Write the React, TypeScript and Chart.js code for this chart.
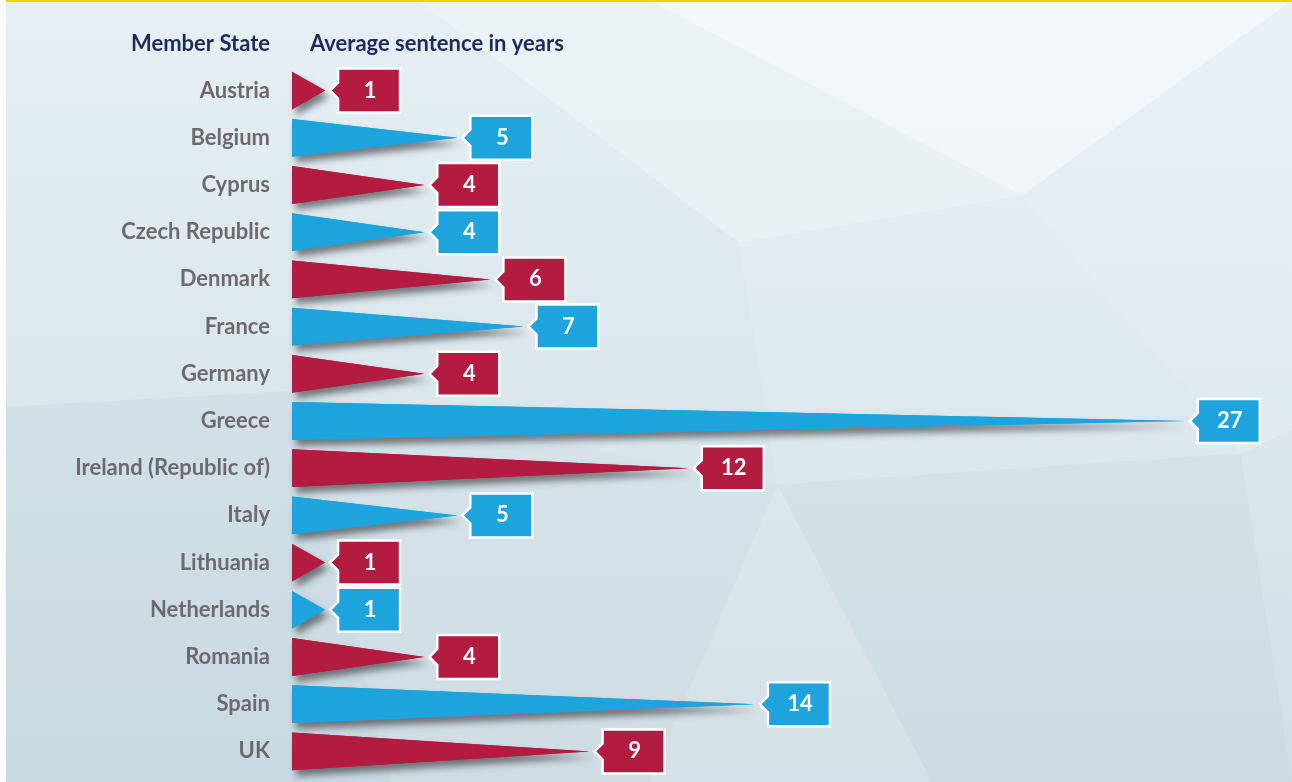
import { useEffect, useRef } from "react";
import { Chart, registerables } from "chart.js";

Chart.register(...registerables);

const countries = [
  "Austria",
  "Belgium",
  "Cyprus",
  "Czech Republic",
  "Denmark",
  "France",
  "Germany",
  "Greece",
  "Ireland (Republic of)",
  "Italy",
  "Lithuania",
  "Netherlands",
  "Romania",
  "Spain",
  "UK",
];
const sentences = [1, 5, 4, 4, 6, 7, 4, 27, 12, 5, 1, 1, 4, 14, 9];
const headerLeft = "Member State";
const headerRight = "Average sentence in years";

const CRIMSON = "#b31c40";
const BLUE = "#1ea4dc";
const barColors = countries.map((_, i) => (i % 2 === 0 ? CRIMSON : BLUE));
const FONT = "Lato, 'Open Sans', sans-serif";

const bgPlugin = {
  id: "bg",
  beforeDraw(chart: any) {
    const { ctx, width, height } = chart;
    ctx.save();
    const g = ctx.createLinearGradient(0, 0, 0, height);
    g.addColorStop(0, "#e5eff4");
    g.addColorStop(1, "#d1dfe6");
    ctx.fillStyle = g;
    ctx.fillRect(6, 0, width - 6, height);
    const polys: [number, number][][] = [
      [[0.5, 0], [1, 0], [0.79, 0.25]],
      [[0.32, 0], [0.5, 0], [0.79, 0.25], [0.57, 0.31]],
      [[0.79, 0.25], [1, 0], [1, 0.55], [0.96, 0.58]],
      [[0.57, 0.31], [0.79, 0.25], [0.96, 0.58], [0.6, 0.62]],
      [[0.0, 0.52], [0.22, 0.5], [0.3, 1], [0.0, 1]],
      [[0.6, 0.62], [0.96, 0.58], [1, 1], [0.72, 1]],
      [[0.22, 0.5], [0.6, 0.62], [0.5, 1], [0.3, 1]],
      [[0.6, 0.62], [0.72, 1], [0.5, 1]],
    ];
    const fills = [
      "rgba(255,255,255,0.5)",
      "rgba(255,255,255,0.28)",
      "rgba(255,255,255,0.16)",
      "rgba(255,255,255,0.1)",
      "rgba(150,180,195,0.12)",
      "rgba(150,180,195,0.08)",
      "rgba(150,180,195,0.05)",
      "rgba(255,255,255,0.08)",
    ];
    polys.forEach((p, i) => {
      ctx.beginPath();
      p.forEach(([px, py], j) => {
        const X = 6 + px * (width - 6);
        const Y = py * height;
        if (j === 0) ctx.moveTo(X, Y);
        else ctx.lineTo(X, Y);
      });
      ctx.closePath();
      ctx.fillStyle = fills[i];
      ctx.fill();
    });
    ctx.fillStyle = "#f6cf00";
    ctx.fillRect(6, 0, width - 6, 2);
    ctx.restore();
  },
};

const wedgePlugin = {
  id: "wedges",
  afterDatasetsDraw(chart: any) {
    const { ctx } = chart;
    const meta = chart.getDatasetMeta(0);
    const ds = chart.data.datasets[0];
    meta.data.forEach((el: any, i: number) => {
      const { x, y, base, height } = el.getProps(["x", "y", "base", "height"], true);
      const color = barColors[i];
      const h = height / 2;
      ctx.save();
      ctx.shadowColor = "rgba(30,30,30,0.55)";
      ctx.shadowBlur = 7;
      ctx.shadowOffsetX = 4;
      ctx.shadowOffsetY = 6;
      ctx.beginPath();
      ctx.moveTo(base, y - h);
      ctx.lineTo(x, y);
      ctx.lineTo(base, y + h);
      ctx.closePath();
      ctx.fillStyle = color;
      ctx.fill();
      ctx.restore();
      ctx.save();
      ctx.beginPath();
      ctx.moveTo(base, y - h);
      ctx.lineTo(x, y);
      ctx.lineTo(base, y + h);
      ctx.closePath();
      ctx.fillStyle = color;
      ctx.fill();
      ctx.restore();
      // callout
      const bx = x + 13;
      const bw = 62;
      const bh = 44;
      const top = y - bh / 2;
      ctx.save();
      ctx.beginPath();
      ctx.moveTo(bx - 8, y);
      ctx.lineTo(bx, y - 8);
      ctx.lineTo(bx, top);
      ctx.lineTo(bx + bw, top);
      ctx.lineTo(bx + bw, top + bh);
      ctx.lineTo(bx, top + bh);
      ctx.lineTo(bx, y + 8);
      ctx.closePath();
      ctx.fillStyle = color;
      ctx.fill();
      ctx.lineWidth = 2.5;
      ctx.lineJoin = "miter";
      ctx.strokeStyle = "#ffffff";
      ctx.stroke();
      ctx.fillStyle = "#ffffff";
      ctx.font = `bold 22px ${FONT}`;
      ctx.textAlign = "center";
      ctx.textBaseline = "middle";
      ctx.fillText(String(ds.data[i]), bx + bw / 2 + 1, y);
      ctx.restore();
    });
  },
};

const headerPlugin = {
  id: "headers",
  afterDraw(chart: any) {
    const { ctx } = chart;
    const yScale = chart.scales.y;
    ctx.save();
    ctx.fillStyle = "#1e2b5b";
    ctx.font = `bold 22px ${FONT}`;
    ctx.textBaseline = "middle";
    ctx.textAlign = "right";
    ctx.fillText(headerLeft, yScale.right - 22, 44);
    ctx.textAlign = "left";
    ctx.fillText(headerRight, chart.chartArea.left + 18, 44);
    ctx.restore();
  },
};

export default function App() {
  const ref = useRef<HTMLCanvasElement>(null);
  useEffect(() => {
    if (!ref.current) return;
    const chart = new Chart(ref.current, {
      type: "bar",
      data: {
        labels: countries,
        datasets: [
          {
            data: sentences,
            backgroundColor: "rgba(0,0,0,0)",
            borderWidth: 0,
            categoryPercentage: 1,
            barPercentage: 0.8,
          },
        ],
      },
      options: {
        indexAxis: "y",
        animation: false,
        responsive: false,
        devicePixelRatio: 1,
        layout: { padding: { top: 67, bottom: 7, left: 0, right: 8 } },
        plugins: {
          legend: { display: false },
          tooltip: { enabled: false },
        },
        scales: {
          x: { display: false, min: 0, max: 30 },
          y: {
            afterFit: (s: any) => {
              s.width = 292;
              s.paddingTop = 0;
              s.paddingBottom = 0;
            },
            grid: { display: false, drawTicks: false },
            border: { display: false },
            ticks: {
              padding: 22,
              color: "#6d6a6f",
              font: { family: FONT, size: 22, weight: "bold" },
            },
          },
        },
      },
      plugins: [bgPlugin, wedgePlugin, headerPlugin],
    });
    return () => chart.destroy();
  }, []);
  return (
    <div style={{ position: "absolute", left: 0, top: 0, width: 1292, height: 782 }}>
      <canvas ref={ref} width={1292} height={782} />
    </div>
  );
}
